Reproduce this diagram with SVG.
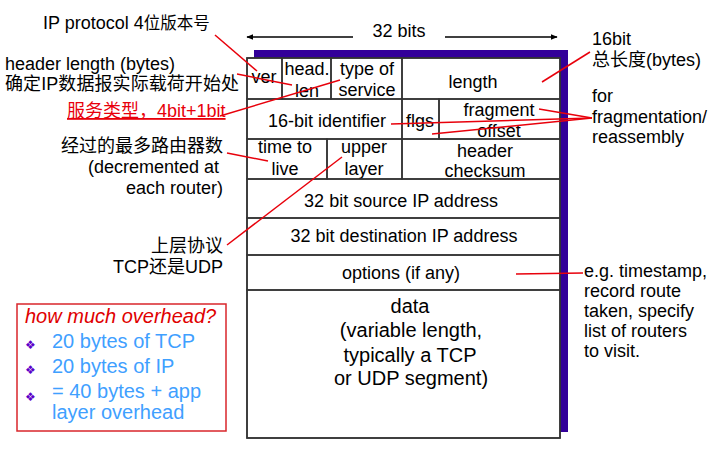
<svg xmlns="http://www.w3.org/2000/svg" width="718" height="450" viewBox="0 0 718 450">
<style>
text{font-family:"Liberation Sans","Noto Sans CJK SC",Arial,sans-serif;font-size:18px;fill:#000}
.c{text-anchor:middle}
.r{text-anchor:end}
.d{font-size:20px}
.cell{fill:none;stroke:#333;stroke-width:1.5}
.lead{stroke:#e8000b;stroke-width:1.5;fill:none}
.blue{fill:#3fa0ff;font-size:20px}
.bul{font-family:"DejaVu Sans",sans-serif;font-size:12px;fill:#5b00c8}
</style>
<defs>
<marker id="ah" viewBox="0 0 10 10" refX="9" refY="5" markerWidth="7" markerHeight="7" orient="auto-start-reverse" markerUnits="userSpaceOnUse">
<path d="M0,1 L10,5 L0,9 z" fill="#000"/>
</marker>
</defs>
<rect width="718" height="450" fill="#fff"/>

<g id="width-label">
<text class="c" x="399" y="37">32 bits</text>
<line x1="353" y1="37" x2="247" y2="37" stroke="#000" stroke-width="1.3" marker-end="url(#ah)"/>
<line x1="445" y1="37" x2="557" y2="37" stroke="#000" stroke-width="1.3" marker-end="url(#ah)"/>
</g>

<g id="table">
<rect x="254" y="50" width="314" height="382" fill="#330099"/>
<rect x="247" y="58" width="313" height="380" fill="#fff" stroke="#333" stroke-width="1.5"/>
</g>

<g id="ver"><rect class="cell" x="247" y="58" width="35" height="41"/><text class="c" x="264" y="83">ver</text></g>
<g id="head-len"><rect class="cell" x="282" y="58" width="49" height="41"/><text class="c" x="307" y="75">head.</text><text class="c" x="307" y="97">len</text></g>
<g id="type-of-service"><rect class="cell" x="331" y="58" width="71" height="41"/><text class="c" x="367" y="75">type of</text><text class="c" x="367" y="96">service</text></g>
<g id="length"><rect class="cell" x="402" y="58" width="158" height="41"/><text class="c" x="473" y="88">length</text></g>

<g id="identifier"><rect class="cell" x="247" y="99" width="155" height="40"/><text class="c" x="327" y="127">16-bit identifier</text></g>
<g id="flgs"><rect class="cell" x="402" y="99" width="37" height="40"/><text class="c" x="420" y="127">flgs</text></g>
<g id="fragment-offset"><rect class="cell" x="439" y="99" width="121" height="40"/><text class="c" x="499" y="116">fragment</text><text class="c" x="499" y="137">offset</text></g>

<g id="ttl"><rect class="cell" x="247" y="139" width="80" height="40"/><text class="c" x="285" y="153">time to</text><text class="c" x="285" y="175">live</text></g>
<g id="upper-layer"><rect class="cell" x="327" y="139" width="75" height="40"/><text class="c" x="364" y="153">upper</text><text class="c" x="364" y="175">layer</text></g>
<g id="checksum"><rect class="cell" x="402" y="139" width="158" height="40"/><text class="c" x="485" y="157">header</text><text class="c" x="485" y="177">checksum</text></g>

<g id="source"><rect class="cell" x="247" y="179" width="313" height="39"/><text class="c" x="401" y="207">32 bit source IP address</text></g>
<g id="destination"><rect class="cell" x="247" y="218" width="313" height="37"/><text class="c" x="404" y="242">32 bit destination IP address</text></g>
<g id="options"><rect class="cell" x="247" y="255" width="313" height="35"/><text class="c" x="401" y="279">options (if any)</text></g>
<g id="data"><rect class="cell" x="247" y="290" width="313" height="148"/>
<text class="c d" x="410" y="313">data</text>
<text class="c d" x="411" y="337">(variable length,</text>
<text class="c d" x="410" y="362">typically a TCP</text>
<text class="c d" x="411" y="385">or UDP segment)</text>
</g>

<g id="note-version"><text x="43" y="29">IP protocol 4<tspan font-size="16.5">位版本号</tspan></text></g>
<g id="note-hlen"><text x="5" y="70">header length (bytes)</text><text x="5" y="90" textLength="234" lengthAdjust="spacing">确定IP数据报实际载荷开始处</text></g>
<g id="note-tos"><text x="67" y="117" style="fill:#e8000b" text-decoration="underline">服务类型，4bit+1bit</text></g>
<g id="note-ttl"><text class="r" x="223" y="152">经过的最多路由器数</text><text class="r" x="219" y="173">(decremented at</text><text class="r" x="223" y="194">each router)</text></g>
<g id="note-proto"><text class="r" x="223" y="252">上层协议</text><text class="r" x="223" y="273">TCP还是UDP</text></g>
<g id="note-length"><text x="592" y="45">16bit</text><text x="592" y="66">总长度(bytes)</text></g>
<g id="note-frag"><text x="592" y="102">for</text><text x="592" y="123">fragmentation/</text><text x="592" y="143">reassembly</text></g>
<g id="note-options"><text x="584" y="277">e.g. timestamp,</text><text x="584" y="297">record route</text><text x="584" y="317">taken, specify</text><text x="584" y="337">list of routers</text><text x="584" y="357">to visit.</text></g>

<g id="overhead">
<rect x="17" y="304" width="209" height="127" fill="#fff" stroke="#d9262b" stroke-width="1.5"/>
<text x="25" y="323" font-style="italic" style="fill:#e00000;font-size:20px">how much overhead?</text>
<text class="bul" x="25" y="349">❖</text>
<text class="blue" x="52" y="348">20 bytes of TCP</text>
<text class="bul" x="25" y="374">❖</text>
<text class="blue" x="52" y="373">20 bytes of IP</text>
<text class="bul" x="25" y="401">❖</text>
<text class="blue" x="52" y="398">= 40 bytes + app</text>
<text class="blue" x="52" y="419">layer overhead</text>
</g>

<g id="connectors">
<line class="lead" x1="215" y1="35" x2="257" y2="71"/>
<line class="lead" x1="237" y1="74" x2="292" y2="85"/>
<line class="lead" x1="220" y1="116" x2="340" y2="80"/>
<line class="lead" x1="227" y1="153" x2="268" y2="161"/>
<line class="lead" x1="227" y1="245" x2="342" y2="157"/>
<line class="lead" x1="590" y1="52" x2="542" y2="82"/>
<line class="lead" x1="592" y1="118" x2="539" y2="109"/>
<line class="lead" x1="592" y1="118" x2="391" y2="124"/>
<line class="lead" x1="592" y1="118" x2="432" y2="134"/>
<line class="lead" x1="516" y1="274" x2="583" y2="273"/>
</g>
</svg>
